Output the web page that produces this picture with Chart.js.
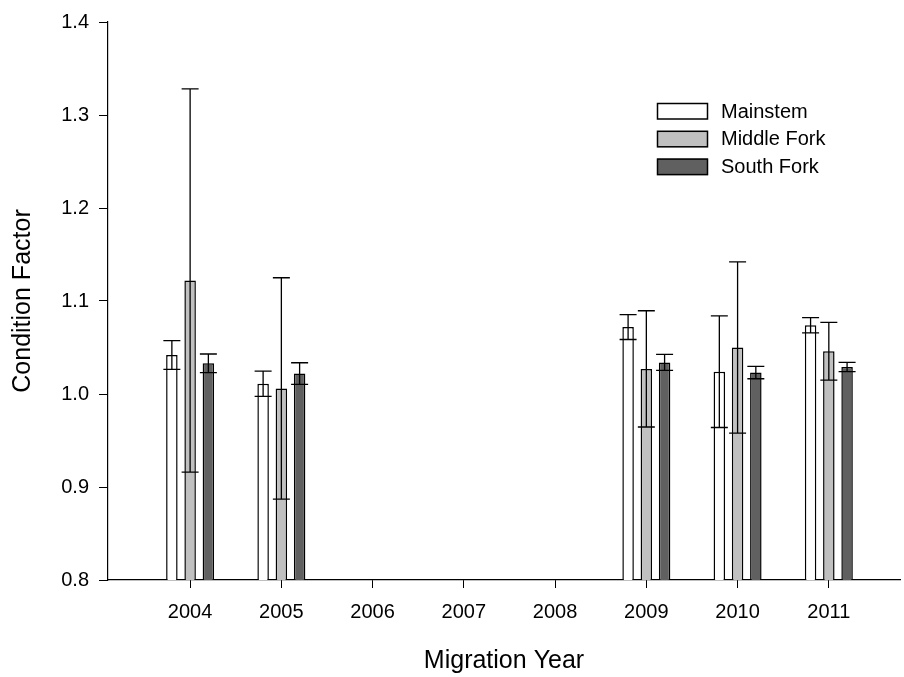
<!DOCTYPE html>
<html>
<head>
<meta charset="utf-8">
<script src="https://cdn.jsdelivr.net/npm/chart.js@4.4.0/dist/chart.umd.min.js"></script>
<style>
  html, body { margin: 0; padding: 0; background: #fff; }
  #wrap { width: 904px; height: 677px; }
</style>
</head>
<body>
<div id="wrap"><canvas id="chart"></canvas></div>
<script>
// years that have samples, and the full set of tick years on the axis
var years = [2004, 2005, 2009, 2010, 2011];
var tickYears = [2004, 2005, 2006, 2007, 2008, 2009, 2010, 2011];

// mean condition factor and error (half bar length) per group
var mainstem = [1.042, 1.011, 1.072, 1.024, 1.074];
var mainstemErr = [0.0155, 0.0135, 0.0134, 0.060, 0.0082];
var middleFork = [1.122, 1.006, 1.027, 1.050, 1.046];
var middleForkErr = [0.206, 0.119, 0.0625, 0.092, 0.031];
var southFork = [1.033, 1.022, 1.034, 1.023, 1.029];
var southForkErr = [0.010, 0.0116, 0.0086, 0.0066, 0.005];

var FONT = '"Liberation Sans", Arial, sans-serif';

function points(vals) {
    return years.map(function (yr, i) { return { x: yr, y: vals[i] }; });
}

// error bars drawn through the scales from the arrays above
var errorBars = {
    id: 'errorBars',
    afterDatasetsDraw: function (chart) {
        var ctx = chart.ctx;
        var yScale = chart.scales.y;
        ctx.save();
        ctx.strokeStyle = '#000';
        ctx.lineWidth = 1.3;
        chart.data.datasets.forEach(function (ds, i) {
            var meta = chart.getDatasetMeta(i);
            meta.data.forEach(function (bar, j) {
                var v = ds.data[j].y, e = ds.errors[j];
                var x = bar.x;
                var hi = yScale.getPixelForValue(v + e);
                var lo = yScale.getPixelForValue(v - e);
                ctx.beginPath();
                ctx.moveTo(x, lo); ctx.lineTo(x, hi);
                ctx.moveTo(x - 8.5, hi); ctx.lineTo(x + 8.5, hi);
                ctx.moveTo(x - 8.5, lo); ctx.lineTo(x + 8.5, lo);
                ctx.stroke();
            });
        });
        ctx.restore();
    }
};

// legend boxes in the upper right of the plot
var boxLegend = {
    id: 'boxLegend',
    afterDraw: function (chart) {
        var ctx = chart.ctx;
        ctx.save();
        ctx.font = '20px ' + FONT;
        ctx.textBaseline = 'middle';
        chart.data.datasets.forEach(function (ds, i) {
            var y = 103 + i * 27.8;
            ctx.fillStyle = ds.backgroundColor;
            ctx.fillRect(657, y, 51, 16.5);
            ctx.strokeStyle = '#000';
            ctx.lineWidth = 1.5;
            ctx.strokeRect(657.5, y + 0.5, 50, 15.5);
            ctx.fillStyle = '#000';
            ctx.fillText(ds.label, 721, y + 9);
        });
        ctx.restore();
    }
};

var ctx = document.getElementById('chart').getContext('2d');
new Chart(ctx, {
    type: 'bar',
    data: {
        datasets: [{
            label: 'Mainstem',
            data: points(mainstem),
            errors: mainstemErr,
            backgroundColor: '#ffffff',
            borderColor: '#000000',
            borderWidth: 1.5
        }, {
            label: 'Middle Fork',
            data: points(middleFork),
            errors: middleForkErr,
            backgroundColor: '#c0c0c0',
            borderColor: '#000000',
            borderWidth: 1.5
        }, {
            label: 'South Fork',
            data: points(southFork),
            errors: southForkErr,
            backgroundColor: '#606060',
            borderColor: '#000000',
            borderWidth: 1.5
        }]
    },
    options: {
        responsive: true,
        maintainAspectRatio: false,
        animation: false,
        categoryPercentage: 0.6,
        barPercentage: 0.63,
        layout: { padding: { top: 19, right: 4, left: 0, bottom: 0 } },
        plugins: {
            legend: { display: false },
            tooltip: { enabled: false }
        },
        scales: {
            x: {
                type: 'linear',
                min: 2003.1,
                max: 2011.78,
                offset: false,
                afterFit: function (scale) { scale.height = 97; },
                grid: { offset: false, drawOnChartArea: false, drawTicks: true, tickLength: 8, color: '#000', lineWidth: 1 },
                border: { display: true, color: '#000', width: 1.2 },
                ticks: {
                    stepSize: 1,
                    includeBounds: false,
                    autoSkip: false,
                    maxRotation: 0,
                    padding: 12,
                    color: '#000',
                    font: { family: FONT, size: 20 },
                    callback: function (v) { return tickYears.indexOf(v) >= 0 ? String(v) : ''; }
                },
                title: {
                    display: true,
                    text: 'Migration Year',
                    color: '#000',
                    font: { family: FONT, size: 25 },
                    padding: { top: 0, bottom: 1 }
                }
            },
            y: {
                min: 0.8,
                max: 1.4,
                afterFit: function (scale) { scale.width = 108; },
                grid: { drawOnChartArea: false, drawTicks: true, tickLength: 9, color: '#000', lineWidth: 1 },
                border: { display: true, color: '#000', width: 1.2 },
                ticks: {
                    stepSize: 0.1,
                    padding: 10,
                    color: '#000',
                    font: { family: FONT, size: 20 },
                    callback: function (v) { return v.toFixed(1); }
                },
                title: {
                    display: true,
                    text: 'Condition Factor',
                    color: '#000',
                    font: { family: FONT, size: 25 },
                    padding: { top: 8, bottom: 0 }
                }
            }
        }
    },
    plugins: [errorBars, boxLegend]
});
</script>
</body>
</html>
